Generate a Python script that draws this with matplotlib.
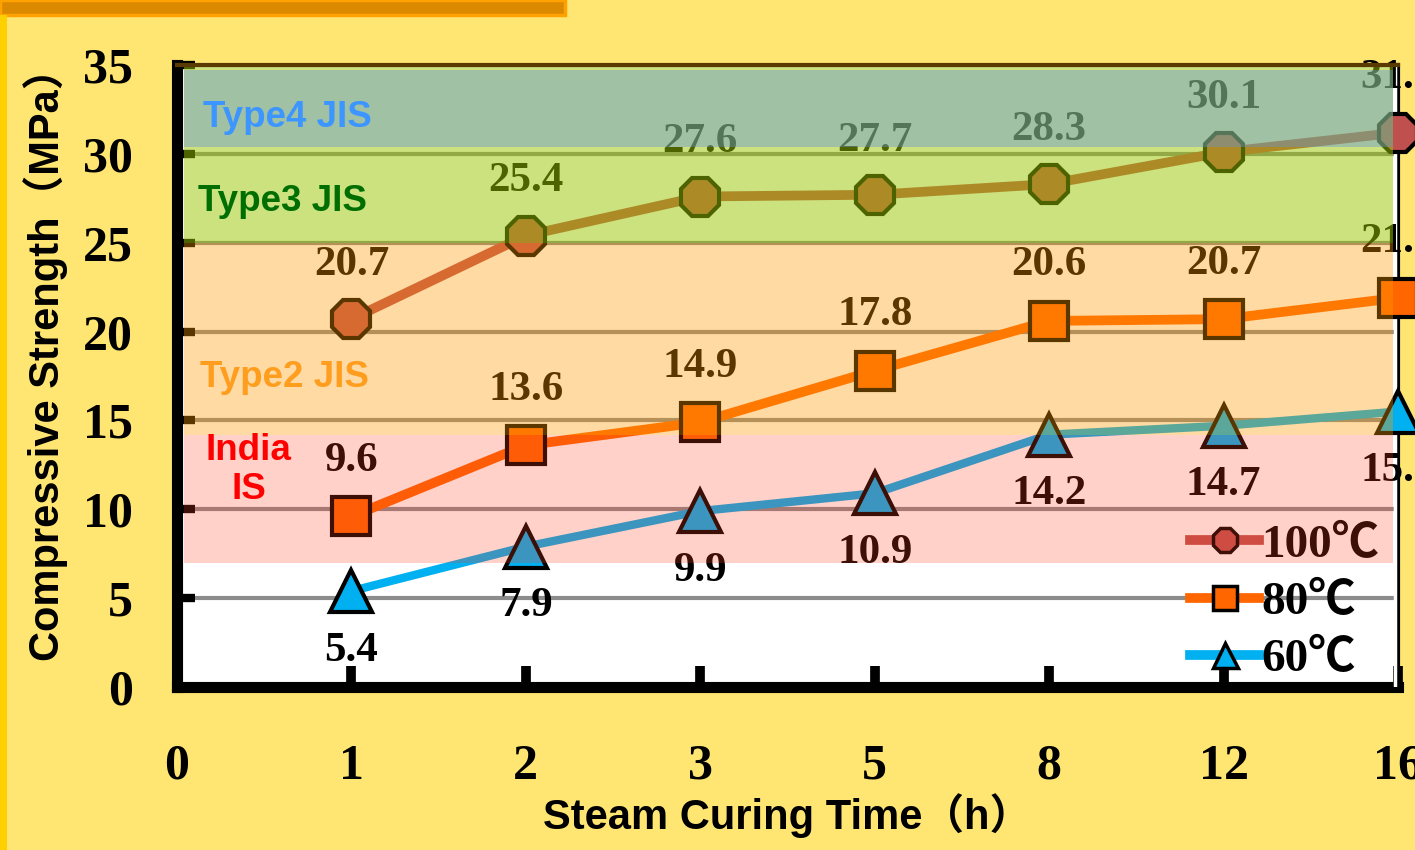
import matplotlib.pyplot as plt
from matplotlib.patches import Rectangle
from matplotlib.lines import Line2D

# steam curing time categories (evenly spaced on the axis)
times = ["0", "1", "2", "3", "5", "8", "12", "16"]
pos = [1, 2, 3, 4, 5, 6, 7]

strength_100 = [20.7, 25.4, 27.6, 27.7, 28.3, 30.1, 31.2]
strength_80 = [9.6, 13.6, 14.9, 17.8, 20.6, 20.7, 21.9]
strength_60 = [5.4, 7.9, 9.9, 10.9, 14.2, 14.7, 15.5]

# standard strength bands (lower, upper)
band_india = (7.0, 14.2)
band_type2 = (14.2, 25.0)
band_type3 = (25.0, 35.0)
band_type4 = (30.4, 34.7)

serif = ["Liberation Serif", "Noto Sans CJK JP"]
sans = ["Liberation Sans", "Noto Sans CJK JP"]

fig = plt.figure(figsize=(14.15, 8.5), dpi=100)
fig.patch.set_facecolor("#FFE673")

# decoration: orange header bar and left stripe
fig.patches.append(Rectangle((0, 1 - 15 / 850), 565 / 1415, 15 / 850, transform=fig.transFigure,
                             facecolor="#DB8A00", edgecolor="#FFA200", lw=2.5, zorder=0))
fig.patches.append(Rectangle((0, 0), 7 / 1415, 1 - 15 / 850, transform=fig.transFigure,
                             facecolor="#FFD000", edgecolor="none", zorder=0))

ax = fig.add_axes([177 / 1415, 1 - 687 / 850, 1221 / 1415, 622 / 850])
ax.set_facecolor("white")
ax.set_xlim(0, 7)
ax.set_ylim(0, 35)
ax.set_axisbelow(True)

ax.yaxis.grid(True, color="#8C8C8C", lw=3)
ax.set_yticks(range(0, 36, 5))
ax.set_xticks(range(0, 8))
ax.set_xticklabels(times)
ax.tick_params(axis="y", direction="in", length=13, width=6, color="black", pad=32,
               labelsize=36)
ax.tick_params(axis="x", direction="in", length=15, width=7, color="black", pad=41,
               labelsize=36)
ax.xaxis.get_major_ticks()[0].tick1line.set_visible(False)
for lab in ax.get_xticklabels() + ax.get_yticklabels():
    lab.set_family(serif)
    lab.set_fontweight("bold")

ax.spines["left"].set_linewidth(8)
ax.spines["bottom"].set_linewidth(8)
ax.spines["right"].set_linewidth(3)
ax.spines["top"].set_linewidth(3)
ax.spines["top"].set_color("#5A3A00")
ax.spines["top"].set_zorder(6)
ax.axvline(6.985, color="white", lw=2.5, zorder=2.6)

# series
ax.plot(pos, strength_100, color="#C0504D", lw=7, marker="8", ms=30, mfc="#C0504D",
        mec="black", mew=3, zorder=3, clip_on=False, label="100℃")
ax.plot(pos, strength_80, color="#FF6600", lw=7, marker="s", ms=28, mfc="#FF6600",
        mec="black", mew=3, zorder=3, clip_on=False, label="80℃")
ax.plot(pos, strength_60, color="#00B0F0", lw=6, marker="^", ms=30, mfc="#00B0F0",
        mec="black", mew=3, zorder=3, clip_on=False, label="60℃")

for x, v in zip(pos, strength_100):
    ax.annotate(f"{v}", (x, v), xytext=(0, 39), textcoords="offset points", ha="center",
                va="center", fontsize=31, fontweight="bold", family=serif, zorder=3,
                annotation_clip=False)
for x, v in zip(pos, strength_80):
    ax.annotate(f"{v}", (x, v), xytext=(0, 40), textcoords="offset points", ha="center",
                va="center", fontsize=31, fontweight="bold", family=serif, zorder=3,
                annotation_clip=False)
for x, v in zip(pos, strength_60):
    ax.annotate(f"{v}", (x, v), xytext=(0, -43), textcoords="offset points", ha="center",
                va="center", fontsize=31, fontweight="bold", family=serif, zorder=3,
                annotation_clip=False)

handles = [
    Line2D([], [], color="#C0504D", lw=7, marker="8", ms=18, mfc="#C0504D", mec="black", mew=2.5),
    Line2D([], [], color="#FF6600", lw=7, marker="s", ms=17, mfc="#FF6600", mec="black", mew=2.5),
    Line2D([], [], color="#00B0F0", lw=7, marker="^", ms=18, mfc="#00B0F0", mec="black", mew=2.5),
]
leg = ax.legend(handles, ["100℃", "80℃", "60℃"], loc="lower left",
                bbox_to_anchor=(0.83, 0.009), frameon=False, handlelength=1.45,
                handletextpad=0.05, labelspacing=0.3, borderpad=0, borderaxespad=0,
                prop={"family": serif, "weight": "bold", "size": 34})
leg.set_zorder(3)

# translucent standard bands laid over the data
x0, x1 = 0.04, 6.97
for (lo, hi), col, a in [(band_india, (1.0, 0.25, 0.13), 0.24),
                         (band_type2, (1.0, 0.6, 0.0), 0.36),
                         (band_type3, (0.6, 0.78, 0.0), 0.5),
                         (band_type4, (0.39, 0.57, 0.87), 0.4)]:
    ax.add_patch(Rectangle((x0, lo), x1 - x0, hi - lo, facecolor=col, alpha=a,
                           edgecolor="none", zorder=4))

band_font = dict(fontsize=26.5, fontweight="bold", family=sans, zorder=5, va="center")
ax.text(0.15, 32.05, "Type4 JIS", color="#3D96FF", **band_font)
ax.text(0.12, 27.3, "Type3 JIS", color="#006E00", **band_font)
ax.text(0.13, 17.4, "Type2 JIS", color="#FF9E1E", **band_font)
ax.text(0.41, 12.2, "India\nIS", color="#FF0000", ha="center", linespacing=1.15, **band_font)

ax.set_xlabel("Steam Curing Time（h）", family=sans, fontweight="bold", fontsize=30,
              labelpad=2)
ax.set_ylabel("Compressive Strength（MPa）", family=sans, fontweight="bold", fontsize=30)
ax.yaxis.set_label_coords(-0.089, 0.535)

fig.savefig("out.png", dpi=100, facecolor=fig.get_facecolor())
